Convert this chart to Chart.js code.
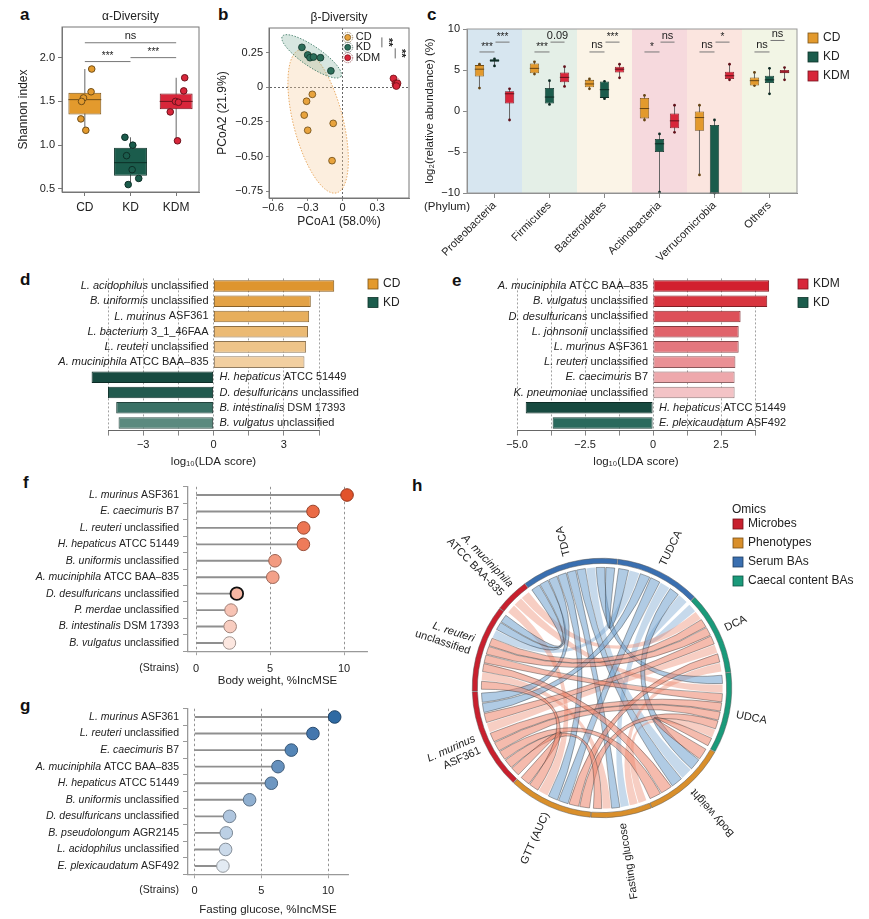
<!DOCTYPE html>
<html>
<head>
<meta charset="utf-8">
<script src="https://cdn.jsdelivr.net/npm/chart.js@4.4.0/dist/chart.umd.min.js"></script>
<style>
  html, body { margin: 0; padding: 0; background: #fff; }
  #fig { position: relative; width: 869px; height: 919px; overflow: hidden; font-family: "Liberation Sans", Arial, sans-serif; }
  #fig canvas { position: absolute; }
  .tag { position: absolute; font-weight: bold; font-size: 17px; line-height: 1; color: #111; }
</style>
</head>
<body>
<div id="fig">
  <div class="tag" style="left:20px;top:6px">a</div>
  <div class="tag" style="left:218px;top:6px">b</div>
  <div class="tag" style="left:427px;top:6px">c</div>
  <div class="tag" style="left:20px;top:271px">d</div>
  <div class="tag" style="left:452px;top:272px">e</div>
  <div class="tag" style="left:23px;top:474px">f</div>
  <div class="tag" style="left:20px;top:697px">g</div>
  <div class="tag" style="left:412px;top:477px">h</div>
</div>
<script>
// ========================================
// Data
// ========================================

// a: alpha diversity (Shannon index)
const alphaGroups = ['CD', 'KD', 'KDM'];
const alphaQuartiles = [[1.35, 1.60], [0.65, 0.97], [1.41, 1.59]];
const alphaMedians = [1.52, 0.80, 1.50];
const alphaWhiskers = [[1.17, 1.87], [0.55, 1.09], [1.05, 1.77]];
const alphaPoints = [
    [1.87, 1.61, 1.54, 1.50, 1.30, 1.17],
    [1.09, 1.00, 0.88, 0.72, 0.62, 0.55],
    [1.77, 1.62, 1.50, 1.49, 1.38, 1.05]
];
const alphaJitter = [
    [0.21, 0.19, -0.04, -0.10, -0.12, 0.03],
    [-0.17, 0.07, -0.12, 0.05, 0.25, -0.07],
    [0.26, 0.23, -0.02, 0.07, -0.18, 0.04]
];
const alphaTests = [[0, 2, 2.17, 'ns'], [0, 1, 1.955, '***'], [1, 2, 2.0, '***']];

// b: beta diversity (PCoA)
const betaCD = [
    { x: -0.26, y: -0.05 }, { x: -0.31, y: -0.10 }, { x: -0.33, y: -0.20 },
    { x: -0.30, y: -0.31 }, { x: -0.08, y: -0.26 }, { x: -0.09, y: -0.53 }
];
const betaKD = [
    { x: -0.35, y: 0.29 }, { x: -0.30, y: 0.235 }, { x: -0.28, y: 0.215 },
    { x: -0.25, y: 0.22 }, { x: -0.19, y: 0.215 }, { x: -0.10, y: 0.12 }
];
const betaKDM = [
    { x: 0.44, y: 0.065 }, { x: 0.46, y: 0.03 }, { x: 0.47, y: 0.02 },
    { x: 0.46, y: 0.015 }, { x: 0.475, y: 0.03 }, { x: 0.465, y: 0.01 }
];
// ellipse: centre x, centre y, first axis (dx, dy), second axis (dx, dy)
const betaEllipseCD = [-0.21, -0.245, -0.159, 0.518, 0.207, 0.046];
const betaEllipseKD = [-0.266, 0.225, 0.253, -0.145, -0.048, -0.06];
const betaEllipseKDM = [0.46, 0.035, 0.035, 0, 0, 0.04];
const betaTests = [[0.34, 0.29, 0.362, '**'], [0.455, 0.21, 0.283, '**']];

// c: phylum abundance, log2(relative abundance)
const phyla = ['Proteobacteria', 'Firmicutes', 'Bacteroidetes', 'Actinobacteria', 'Verrucomicrobia', 'Others'];
const cdQuartiles = [[4.2, 5.6], [4.6, 5.8], [2.9, 3.8], [-0.9, 1.6], [-2.4, 0.0], [3.1, 4.1]];
const cdMedians = [5.1, 5.2, 3.3, 0.3, -0.8, 3.7];
const cdWhiskers = [[2.8, 5.7], [4.5, 6.0], [2.7, 3.9], [-1.1, 1.9], [-7.8, 0.7], [3.1, 4.7]];
const kdQuartiles = [[6.0, 6.3], [0.9, 2.8], [1.6, 3.6], [-5.0, -3.4], [-10, -1.7], [3.4, 4.3]];
const kdMedians = [6.15, 1.7, 2.6, -4.0, -10, 3.8];
const kdWhiskers = [[5.5, 6.35], [0.8, 3.7], [1.5, 3.6], [-9.9, -2.8], [-10, -1.1], [2.1, 5.2]];
const kdmQuartiles = [[0.9, 2.4], [3.5, 4.7], [4.7, 5.4], [-2.1, -0.3], [3.9, 4.8], [4.6, 5.0]];
const kdmMedians = [2.1, 4.1, 5.1, -1.2, 4.3, 4.75];
const kdmWhiskers = [[-1.1, 2.7], [3.0, 5.4], [4.05, 5.7], [-2.6, 0.7], [3.8, 5.7], [3.8, 5.3]];
const phylaTestLow = ['***', '***', 'ns', '*', 'ns', 'ns'];
const phylaTestHigh = ['***', '0.09', '***', 'ns', '*', 'ns'];

// d: LEfSe CD vs KD
const ldaCdTaxa = ['L. acidophilus unclassified', 'B. uniformis unclassified', 'L. murinus ASF361',
    'L. bacterium 3_1_46FAA', 'L. reuteri unclassified', 'A. muciniphila ATCC BAA\u2013835'];
const ldaCdScores = [5.15, 4.15, 4.08, 4.03, 3.95, 3.88];
const ldaCdKdTaxa = ['H. hepaticus ATCC 51449', 'D. desulfuricans unclassified',
    'B. intestinalis DSM 17393', 'B. vulgatus unclassified'];
const ldaCdKdScores = [-5.2, -4.5, -4.15, -4.05];

// e: LEfSe KDM vs KD
const ldaKdmTaxa = ['A. muciniphila ATCC BAA\u2013835', 'B. vulgatus unclassified', 'D. desulfuricans unclassified',
    'L. johnsonii unclassified', 'L. murinus ASF361', 'L. reuteri unclassified',
    'E. caecimuris B7', 'K. pneumoniae unclassified'];
const ldaKdmScores = [4.27, 4.2, 3.22, 3.15, 3.15, 3.03, 3.0, 3.0];
const ldaKdmKdTaxa = ['H. hepaticus ATCC 51449', 'E. plexicaudatum ASF492'];
const ldaKdmKdScores = [-4.68, -3.69];

// f: random forest, body weight
const bwTaxa = ['L. murinus ASF361', 'E. caecimuris B7', 'L. reuteri unclassified', 'H. hepaticus ATCC 51449',
    'B. uniformis unclassified', 'A. muciniphila ATCC BAA\u2013835', 'D. desulfuricans unclassified',
    'P. merdae unclassified', 'B. intestinalis DSM 17393', 'B. vulgatus unclassified'];
const bwIncMSE = [10.2, 7.9, 7.27, 7.25, 5.33, 5.18, 2.75, 2.36, 2.3, 2.25];

// g: random forest, fasting glucose
const fgTaxa = ['L. murinus ASF361', 'L. reuteri unclassified', 'E. caecimuris B7', 'A. muciniphila ATCC BAA\u2013835',
    'H. hepaticus ATCC 51449', 'B. uniformis unclassified', 'D. desulfuricans unclassified',
    'B. pseudolongum AGR2145', 'L. acidophilus unclassified', 'E. plexicaudatum ASF492'];
const fgIncMSE = [10.5, 8.87, 7.25, 6.25, 5.75, 4.12, 2.62, 2.37, 2.32, 2.12];

// h: chord diagram
const omicsNames = ['Microbes', 'Phenotypes', 'Serum BAs', 'Caecal content BAs'];
const chordNodes = ['TDCA', 'TUDCA', 'DCA', 'UDCA', 'Body weight', 'Fasting glucose', 'GTT (AUC)',
    'L. murinus ASF361', 'L. reuteri unclassified', 'A. muciniphila ATCC BAA-835'];
const chordNodeSpan = [43.5, 38.5, 37.5, 36.5, 38, 27.5, 38, 45.5, 39.5, 15.5];
const chordNodeOmics = [2, 2, 3, 3, 1, 1, 1, 0, 0, 0];
// [node, node, sign (1 positive / -1 negative), significant outline]
const chordLinks = [
    [0, 8, -1, 1], [0, 8, -1, 1], [0, 7, -1, 1], [0, 6, -1, 1], [0, 5, -1, 1],
    [0, 4, -1, 1], [0, 3, -1, 1], [0, 1, -1, 1], [0, 4, -1, 0],
    [1, 8, -1, 0], [1, 7, -1, 1], [1, 6, -1, 1], [1, 5, -1, 0], [1, 4, -1, 1], [1, 2, -1, 0],
    [2, 8, 1, 1], [2, 8, 1, 1], [2, 7, 1, 1], [2, 7, 1, 0], [2, 6, 1, 1], [2, 5, 1, 0], [2, 9, 1, 0],
    [3, 8, 1, 1], [3, 7, 1, 1], [3, 7, 1, 1], [3, 6, 1, 1], [3, 5, 1, 0], [3, 4, 1, 1], [3, 9, 1, 0],
    [4, 7, 1, 1], [4, 8, 1, 1],
    [5, 7, 1, 1], [5, 8, 1, 0],
    [6, 7, 1, 1], [6, 8, 1, 1], [6, 9, 1, 0]
];

// ========================================
// Shared helpers
// ========================================
const FONT = '"Liberation Sans", Arial, sans-serif';
const MINUS = '\u2212';
const groupColor = { CD: '#E39A2D', KD: '#1B5C4C', KDM: '#D8263A' };
const omicsColor = ['#C8202E', '#D98F2B', '#3A6FB0', '#1A9A7A'];

Chart.defaults.font.family = FONT;
Chart.defaults.font.size = 11;
Chart.defaults.color = '#222';
Chart.defaults.animation = false;
Chart.defaults.responsive = false;
Chart.defaults.plugins.legend.display = false;
Chart.defaults.plugins.tooltip.enabled = false;

function makeCanvas(left, top, w, h) {
    const c = document.createElement('canvas');
    c.width = w;
    c.height = h;
    c.style.left = left + 'px';
    c.style.top = top + 'px';
    c.style.width = w + 'px';
    c.style.height = h + 'px';
    document.getElementById('fig').appendChild(c);
    return c;
}

function darken(color, amount) {
    const hex = color.replace('#', '');
    const ch = [0, 2, 4].map(i => Math.floor(parseInt(hex.substr(i, 2), 16) * (1 - amount)));
    return '#' + ch.map(v => v.toString(16).padStart(2, '0')).join('');
}

function fmt(v, digits) {
    if (v === 0) return '0';
    return (v < 0 ? MINUS : '') + Math.abs(v).toFixed(digits);
}

// species name: first two words italic, rest upright
function drawTaxon(ctx, name, x, y, align, size) {
    const words = name.split(' ');
    const ital = words.slice(0, 2).join(' ');
    const rest = words.length > 2 ? ' ' + words.slice(2).join(' ') : '';
    const fi = `italic ${size}px ${FONT}`;
    const fr = `${size}px ${FONT}`;
    ctx.font = fi;
    const wi = ctx.measureText(ital).width;
    ctx.font = fr;
    const wr = ctx.measureText(rest).width;
    let x0 = x;
    if (align === 'right') x0 = x - wi - wr;
    if (align === 'center') x0 = x - (wi + wr) / 2;
    ctx.textAlign = 'left';
    ctx.textBaseline = 'middle';
    ctx.fillStyle = '#222';
    ctx.font = fi;
    ctx.fillText(ital, x0, y);
    ctx.font = fr;
    ctx.fillText(rest, x0 + wi, y);
}

const framePlugin = {
    id: 'frame',
    beforeDatasetsDraw(chart) {
        const { ctx, chartArea: a } = chart;
        ctx.save();
        ctx.strokeStyle = '#777';
        ctx.lineWidth = 1;
        ctx.strokeRect(a.left, a.top, a.right - a.left, a.bottom - a.top);
        ctx.restore();
    }
};

function titlePlugin(text) {
    return {
        id: 'panelTitle',
        afterDraw(chart) {
            const { ctx, chartArea: a } = chart;
            ctx.save();
            ctx.font = `12px ${FONT}`;
            ctx.fillStyle = '#222';
            ctx.textAlign = 'center';
            ctx.textBaseline = 'middle';
            ctx.fillText(text, (a.left + a.right) / 2, a.top - 10);
            ctx.restore();
        }
    };
}

function squareLegend(items, x, y0, gap) {
    return {
        id: 'squareLegend',
        afterDraw(chart) {
            const ctx = chart.ctx;
            ctx.save();
            items.forEach(([label, color], i) => {
                const y = y0 + i * gap;
                ctx.fillStyle = color;
                ctx.strokeStyle = darken(color, 0.45);
                ctx.lineWidth = 0.8;
                ctx.fillRect(x, y - 5, 10, 10);
                ctx.strokeRect(x, y - 5, 10, 10);
                ctx.fillStyle = '#222';
                ctx.font = `12px ${FONT}`;
                ctx.textAlign = 'left';
                ctx.textBaseline = 'middle';
                ctx.fillText(label, x + 15, y);
            });
            ctx.restore();
        }
    };
}

// whiskers behind the box, median and dots on top
function boxPlugin(statsOf, capDot) {
    return {
        id: 'boxStats',
        beforeDatasetsDraw(chart) {
            const ctx = chart.ctx;
            const y = chart.scales.y;
            chart.data.datasets.forEach((ds, di) => {
                chart.getDatasetMeta(di).data.forEach((bar, i) => {
                    const s = statsOf(di, i);
                    ctx.save();
                    ctx.strokeStyle = '#666';
                    ctx.lineWidth = 1;
                    ctx.beginPath();
                    ctx.moveTo(bar.x, y.getPixelForValue(s.whisker[0]));
                    ctx.lineTo(bar.x, y.getPixelForValue(s.whisker[1]));
                    ctx.stroke();
                    if (capDot) {
                        ctx.fillStyle = s.edge;
                        s.whisker.forEach(v => {
                            ctx.beginPath();
                            ctx.arc(bar.x, y.getPixelForValue(v), capDot, 0, Math.PI * 2);
                            ctx.fill();
                        });
                    }
                    ctx.restore();
                });
            });
        },
        afterDatasetsDraw(chart) {
            const ctx = chart.ctx;
            const y = chart.scales.y;
            chart.data.datasets.forEach((ds, di) => {
                chart.getDatasetMeta(di).data.forEach((bar, i) => {
                    const s = statsOf(di, i);
                    const ym = y.getPixelForValue(s.median);
                    ctx.save();
                    ctx.strokeStyle = s.edge;
                    ctx.lineWidth = 1;
                    ctx.beginPath();
                    ctx.moveTo(bar.x - bar.width / 2, ym);
                    ctx.lineTo(bar.x + bar.width / 2, ym);
                    ctx.stroke();
                    (s.points || []).forEach((v, k) => {
                        ctx.beginPath();
                        ctx.arc(bar.x + s.jitter[k] * bar.width, y.getPixelForValue(v), 3.3, 0, Math.PI * 2);
                        ctx.fillStyle = s.fill;
                        ctx.fill();
                        ctx.lineWidth = 1;
                        ctx.strokeStyle = s.edge;
                        ctx.stroke();
                    });
                    ctx.restore();
                });
            });
        }
    };
}

function drawBracket(ctx, x1, x2, y, label) {
    ctx.strokeStyle = '#777';
    ctx.lineWidth = 1;
    ctx.beginPath();
    ctx.moveTo(x1, y);
    ctx.lineTo(x2, y);
    ctx.stroke();
    ctx.fillStyle = '#222';
    ctx.textAlign = 'center';
    ctx.textBaseline = 'bottom';
    ctx.font = `${label.indexOf('*') >= 0 ? 10 : 11}px ${FONT}`;
    ctx.fillText(label, (x1 + x2) / 2, y - (label.indexOf('*') >= 0 ? 0 : 1));
}

// ========================================
// a: alpha diversity
// ========================================
new Chart(makeCanvas(0, 0, 210, 235), {
    type: 'bar',
    data: {
        labels: alphaGroups,
        datasets: [{
            data: alphaQuartiles,
            backgroundColor: alphaGroups.map(g => groupColor[g]),
            borderColor: alphaGroups.map(g => darken(groupColor[g], 0.45)),
            borderWidth: 1,
            borderSkipped: false,
            barPercentage: 0.72,
            categoryPercentage: 1
        }]
    },
    options: {
        layout: { padding: { left: 16, top: 27, right: 11, bottom: 0 } },
        scales: {
            x: {
                grid: { drawOnChartArea: false, offset: false, tickLength: 4, color: '#777' },
                border: { color: '#777' },
                ticks: { font: { size: 12 }, padding: 4, color: '#222' },
                afterFit: s => { s.height = 43; }
            },
            y: {
                min: 0.465,
                max: 2.35,
                afterBuildTicks: s => { s.ticks = [0.5, 1, 1.5, 2].map(v => ({ value: v })); },
                ticks: { callback: v => v.toFixed(1), padding: 3, color: '#222' },
                grid: { drawOnChartArea: false, tickLength: 4, color: '#777' },
                border: { color: '#777' },
                title: { display: true, text: 'Shannon index', font: { size: 12 }, padding: 0 },
                afterFit: s => { s.width = 46; }
            }
        }
    },
    plugins: [
        framePlugin,
        boxPlugin((di, i) => ({
            median: alphaMedians[i],
            whisker: alphaWhiskers[i],
            points: alphaPoints[i],
            jitter: alphaJitter[i],
            fill: groupColor[alphaGroups[i]],
            edge: darken(groupColor[alphaGroups[i]], 0.5)
        }), 0),
        {
            id: 'alphaTests',
            afterDraw(chart) {
                const { ctx, scales: { x, y } } = chart;
                ctx.save();
                alphaTests.forEach(([a, b, v, label]) => {
                    drawBracket(ctx, x.getPixelForValue(a), x.getPixelForValue(b), y.getPixelForValue(v), label);
                });
                ctx.restore();
            }
        },
        titlePlugin('\u03b1-Diversity')
    ]
});

// ========================================
// b: beta diversity
// ========================================
const zeroGrid = {
    color: c => (c.tick && c.tick.value === 0 ? '#555' : 'rgba(0,0,0,0)'),
    tickColor: '#777',
    tickLength: 3,
    lineWidth: 0.9
};

new Chart(makeCanvas(205, 0, 210, 235), {
    type: 'scatter',
    data: {
        datasets: [
            { label: 'CD', data: betaCD, backgroundColor: '#E8A33D', borderColor: '#6b4a15' },
            { label: 'KD', data: betaKD, backgroundColor: '#2C6E5A', borderColor: '#10352b' },
            { label: 'KDM', data: betaKDM, backgroundColor: '#D8263A', borderColor: '#701018' }
        ]
    },
    options: {
        layout: { padding: { left: 10, top: 28, right: 6, bottom: 6 } },
        elements: { point: { radius: 3.4, borderWidth: 0.8 } },
        scales: {
            x: {
                min: -0.634,
                max: 0.574,
                afterBuildTicks: s => { s.ticks = [-0.6, -0.3, 0, 0.3].map(v => ({ value: v })); },
                ticks: { callback: v => fmt(v, 1), padding: 0, color: '#222' },
                grid: zeroGrid,
                border: { color: '#777', dash: [2, 2] },
                title: { display: true, text: 'PCoA1 (58.0%)', font: { size: 12 }, padding: { top: 2, bottom: 0 } },
                afterFit: s => { s.height = 31; }
            },
            y: {
                min: -0.80,
                max: 0.43,
                afterBuildTicks: s => { s.ticks = [-0.75, -0.5, -0.25, 0, 0.25].map(v => ({ value: v })); },
                ticks: { callback: v => fmt(v, 2), padding: 3, color: '#222' },
                grid: zeroGrid,
                border: { color: '#777', dash: [2, 2] },
                title: { display: true, text: 'PCoA2 (21.9%)', font: { size: 12 }, padding: 0 },
                afterFit: s => { s.width = 54; }
            }
        }
    },
    plugins: [
        framePlugin,
        {
            id: 'ellipses',
            beforeDatasetsDraw(chart) {
                const { ctx, scales: { x, y } } = chart;
                const shapes = [
                    [betaEllipseCD, 'rgba(246,205,160,0.35)', 'rgba(232,165,90,0.9)'],
                    [betaEllipseKD, 'rgba(110,165,145,0.28)', 'rgba(60,120,100,0.85)'],
                    [betaEllipseKDM, 'rgba(240,150,160,0.3)', 'rgba(220,90,100,0.85)']
                ];
                ctx.save();
                shapes.forEach(([e, fill, stroke]) => {
                    ctx.beginPath();
                    for (let k = 0; k <= 72; k++) {
                        const t = k / 72 * Math.PI * 2;
                        const px = x.getPixelForValue(e[0] + e[2] * Math.cos(t) + e[4] * Math.sin(t));
                        const py = y.getPixelForValue(e[1] + e[3] * Math.cos(t) + e[5] * Math.sin(t));
                        if (k === 0) ctx.moveTo(px, py); else ctx.lineTo(px, py);
                    }
                    ctx.closePath();
                    ctx.fillStyle = fill;
                    ctx.fill();
                    ctx.setLineDash([1.5, 1.5]);
                    ctx.strokeStyle = stroke;
                    ctx.lineWidth = 1;
                    ctx.stroke();
                });
                ctx.restore();
            },
            afterDraw(chart) {
                const { ctx, scales: { x, y } } = chart;
                ctx.save();
                // legend
                const lx = x.getPixelForValue(0.045);
                chart.data.datasets.forEach((ds, i) => {
                    const ly = y.getPixelForValue([0.362, 0.29, 0.215][i]);
                    ctx.setLineDash([1, 1]);
                    ctx.strokeStyle = ds.borderColor;
                    ctx.lineWidth = 0.7;
                    ctx.beginPath();
                    ctx.arc(lx, ly, 5, 0, Math.PI * 2);
                    ctx.stroke();
                    ctx.setLineDash([]);
                    ctx.beginPath();
                    ctx.arc(lx, ly, 3, 0, Math.PI * 2);
                    ctx.fillStyle = ds.backgroundColor;
                    ctx.fill();
                    ctx.stroke();
                    ctx.fillStyle = '#222';
                    ctx.font = `11px ${FONT}`;
                    ctx.textAlign = 'left';
                    ctx.textBaseline = 'middle';
                    ctx.fillText(ds.label, lx + 8, ly);
                });
                // PERMANOVA marks
                betaTests.forEach(([vx, y0, y1, label]) => {
                    const px = x.getPixelForValue(vx);
                    ctx.strokeStyle = '#666';
                    ctx.lineWidth = 1;
                    ctx.beginPath();
                    ctx.moveTo(px, y.getPixelForValue(y0));
                    ctx.lineTo(px, y.getPixelForValue(y1));
                    ctx.stroke();
                    ctx.save();
                    ctx.translate(px + 6, y.getPixelForValue((y0 + y1) / 2));
                    ctx.rotate(Math.PI / 2);
                    ctx.fillStyle = '#222';
                    ctx.font = `bold 11px ${FONT}`;
                    ctx.textAlign = 'center';
                    ctx.textBaseline = 'middle';
                    ctx.fillText(label, 0, 0);
                    ctx.restore();
                });
                ctx.restore();
            }
        },
        titlePlugin('\u03b2-Diversity')
    ]
});

// ========================================
// c: phylum level box plots
// ========================================
const phylaStats = [
    [cdQuartiles, cdMedians, cdWhiskers, 'CD'],
    [kdQuartiles, kdMedians, kdWhiskers, 'KD'],
    [kdmQuartiles, kdmMedians, kdmWhiskers, 'KDM']
];
const phylaBg = ['#D7E6F0', '#E4EFE7', '#FBF4E7', '#F6D9DD', '#FBE5DF', '#F2F5E5'];

new Chart(makeCanvas(405, 0, 464, 265), {
    type: 'bar',
    data: {
        labels: phyla,
        datasets: phylaStats.map(([q, m, w, g]) => ({
            label: g,
            data: q,
            backgroundColor: groupColor[g],
            borderColor: darken(groupColor[g], 0.5),
            borderWidth: 0.8,
            borderSkipped: false,
            barPercentage: 0.62,
            categoryPercentage: 0.82
        }))
    },
    options: {
        layout: { padding: { left: 18, top: 29, right: 72, bottom: 0 } },
        scales: {
            x: {
                grid: { drawOnChartArea: false, offset: false, tickLength: 5, color: '#888' },
                border: { color: '#888' },
                ticks: { autoSkip: false, minRotation: 45, maxRotation: 45, padding: 1, color: '#222', font: { size: 11 } },
                afterFit: s => { s.height = 72; }
            },
            y: {
                min: -10,
                max: 10,
                ticks: { stepSize: 5, callback: v => fmt(v, 0), padding: 3, color: '#222' },
                grid: { drawOnChartArea: false, tickLength: 4, color: '#888' },
                border: { color: '#888' },
                title: { display: true, text: 'log\u2082(relative abundance) (%)', font: { size: 11.5 }, padding: 0 },
                afterFit: s => { s.width = 44; }
            }
        }
    },
    plugins: [
        {
            id: 'phylumBands',
            beforeDraw(chart) {
                const { ctx, chartArea: a, scales: { x } } = chart;
                ctx.save();
                phyla.forEach((p, i) => {
                    const l = x.getPixelForValue(i - 0.5);
                    const r = x.getPixelForValue(i + 0.5);
                    ctx.fillStyle = phylaBg[i];
                    ctx.fillRect(l, a.top, r - l, a.bottom - a.top);
                });
                ctx.restore();
            },
            afterDraw(chart) {
                const { ctx, chartArea: a, scales: { x, y } } = chart;
                ctx.save();
                ctx.strokeStyle = '#999';
                ctx.lineWidth = 1;
                ctx.strokeRect(a.left, a.top, a.right - a.left, a.bottom - a.top);
                const bars = [0, 1, 2].map(d => chart.getDatasetMeta(d).data);
                phyla.forEach((p, i) => {
                    drawBracket(ctx, bars[0][i].x, bars[1][i].x, y.getPixelForValue(7.2), phylaTestLow[i]);
                    drawBracket(ctx, bars[1][i].x + 1, bars[2][i].x, y.getPixelForValue(i === 5 ? 8.6 : 8.4), phylaTestHigh[i]);
                });
                ctx.font = `11.5px ${FONT}`;
                ctx.fillStyle = '#222';
                ctx.textAlign = 'center';
                ctx.textBaseline = 'middle';
                ctx.fillText('(Phylum)', 42, 207);
                ctx.restore();
            }
        },
        boxPlugin((di, i) => ({
            median: phylaStats[di][1][i],
            whisker: phylaStats[di][2][i],
            fill: groupColor[phylaStats[di][3]],
            edge: darken(groupColor[phylaStats[di][3]], 0.55)
        }), 1.4),
        squareLegend([['CD', groupColor.CD], ['KD', groupColor.KD], ['KDM', groupColor.KDM]], 403, 38, 19)
    ]
});

// ========================================
// d / e: LDA scores
// ========================================
function ldaChart(left, width, taxa, scores, colors, xmin, xmax, step, major, padLeft, padRight, legend) {
    return new Chart(makeCanvas(left, 262, width, 210), {
        type: 'bar',
        data: {
            labels: taxa,
            datasets: [{
                data: scores,
                backgroundColor: colors,
                borderColor: colors.map(c => darken(c, 0.4)),
                borderWidth: 1,
                borderSkipped: false,
                barPercentage: 0.76,
                categoryPercentage: 1,
                clip: false
            }]
        },
        options: {
            indexAxis: 'y',
            layout: { padding: { left: padLeft, right: padRight, top: 16.4, bottom: 0 } },
            scales: {
                x: {
                    min: xmin,
                    max: xmax,
                    ticks: {
                        stepSize: step,
                        callback: v => (Math.abs(v / major - Math.round(v / major)) < 1e-6 ? fmt(v, major % 1 ? 1 : 0) : ''),
                        padding: 3,
                        color: '#222'
                    },
                    grid: { color: '#8a8a8a', lineWidth: 0.8, tickColor: '#666', tickLength: 5 },
                    border: { dash: [2, 2], color: '#666' },
                    title: { display: true, text: 'log\u2081\u2080(LDA score)', font: { size: 11.5 }, padding: { top: 0, bottom: 3 } },
                    afterFit: s => { s.height = 41.4; }
                },
                y: { display: false }
            }
        },
        plugins: [
            {
                id: 'ldaLabels',
                afterDatasetsDraw(chart) {
                    const { ctx, scales: { x } } = chart;
                    const x0 = x.getPixelForValue(0);
                    ctx.save();
                    chart.getDatasetMeta(0).data.forEach((bar, i) => {
                        if (scores[i] >= 0) drawTaxon(ctx, taxa[i], x0 - 5, bar.y, 'right', 11);
                        else drawTaxon(ctx, taxa[i], x0 + 6, bar.y, 'left', 11);
                    });
                    ctx.restore();
                }
            },
            squareLegend(legend, 368, 22, 18.5)
        ]
    });
}

ldaChart(0, 430, ldaCdTaxa.concat(ldaCdKdTaxa), ldaCdScores.concat(ldaCdKdScores),
    ['#DE952F', '#E3A246', '#E7AE5C', '#EBBA74', '#EEC489', '#F2CFA0', '#174A40', '#225A4F', '#3A7166', '#5B8A7F'],
    -4.5, 4.5, 1.5, 3, 108, 111, [['CD', groupColor.CD], ['KD', groupColor.KD]]);

ldaChart(430, 439, ldaKdmTaxa.concat(ldaKdmKdTaxa), ldaKdmScores.concat(ldaKdmKdScores),
    ['#D2202F', '#D8353F', '#DD5059', '#E0636B', '#E4777E', '#EA9095', '#EEA8AC', '#F3C3C6', '#174A40', '#2A6A5D'],
    -5, 3.75, 1.25, 2.5, 87, 114, [['KDM', groupColor.KDM], ['KD', groupColor.KD]]);

// ========================================
// f / g: random forest lollipops
// ========================================
function lollipop(top, height, taxa, values, colors, edgeWidths, xmin, xmax, padTop, padRight, axisH, tickPad, title) {
    return new Chart(makeCanvas(0, top, 400, height), {
        type: 'bar',
        data: {
            labels: taxa,
            datasets: [
                {
                    type: 'line',
                    indexAxis: 'y',
                    data: values,
                    showLine: false,
                    pointRadius: 6.3,
                    pointBackgroundColor: colors,
                    pointBorderColor: colors.map((c, i) => (edgeWidths[i] > 1.2 ? '#111' : darken(c, 0.35))),
                    pointBorderWidth: edgeWidths,
                    order: 0
                },
                {
                    type: 'bar',
                    data: values,
                    backgroundColor: '#8f8f8f',
                    barThickness: 1.2,
                    order: 1
                }
            ]
        },
        options: {
            indexAxis: 'y',
            layout: { padding: { left: 0, right: padRight, top: padTop, bottom: 0 } },
            scales: {
                x: {
                    min: xmin,
                    max: xmax,
                    ticks: { stepSize: 5, includeBounds: false, padding: tickPad, color: '#222' },
                    grid: { color: '#888', lineWidth: 0.9, tickColor: '#999', tickLength: 4 },
                    border: { dash: [2.5, 2.5], color: '#999', width: 1.3 },
                    title: { display: true, text: title, font: { size: 11.5 }, padding: { top: 0, bottom: 2 } },
                    afterFit: s => { s.height = axisH; }
                },
                y: {
                    ticks: { display: false },
                    grid: { drawOnChartArea: false, tickLength: 5, color: '#999' },
                    border: { color: '#999', width: 1.3 },
                    afterFit: s => { s.width = 188; }
                }
            }
        },
        plugins: [{
            id: 'strainLabels',
            afterDraw(chart) {
                const { ctx, chartArea: a, scales: { x, y } } = chart;
                ctx.save();
                taxa.forEach((t, i) => drawTaxon(ctx, t, a.left - 9, y.getPixelForValue(i), 'right', 10.5));
                ctx.font = `10.5px ${FONT}`;
                ctx.fillStyle = '#222';
                ctx.textAlign = 'right';
                ctx.textBaseline = 'middle';
                ctx.fillText('(Strains)', a.left - 9, x.top + 4 + tickPad + 6);
                ctx.restore();
            }
        }]
    });
}

lollipop(470, 220, bwTaxa, bwIncMSE,
    ['#E2532B', '#EA6A45', '#EC7553', '#EE7B5A', '#F29A80', '#F3A189', '#F5B6A3', '#F7C3B4', '#F8CDC0', '#FCE7E0'],
    [1, 1, 1, 1, 1, 1, 1.8, 1, 1, 1],
    -0.55, 11.55, 16.8, 33, 38.8, 7, 'Body weight, %IncMSE');

lollipop(690, 229, fgTaxa, fgIncMSE,
    ['#2F6AA3', '#4477AE', '#5485B6', '#6590BD', '#6E97C1', '#8FAFD0', '#AFC6DF', '#BCD0E5', '#CBDAEA', '#E3EBF3'],
    [1, 1, 1, 1, 1, 1, 1, 1, 1, 1],
    -0.5, 11.5, 18.7, 52, 44.7, 6, 'Fasting glucose, %IncMSE');

// ========================================
// h: chord diagram
// ========================================
const chordPlugin = {
    id: 'chord',
    afterDatasetsDraw(chart) {
        const ctx = chart.ctx;
        const arcs = chart.getDatasetMeta(0).data;
        const TAU = Math.PI * 2;
        const mid = a => (a.startAngle + a.endAngle) / 2;

        // allocate a slot on each node for every link end
        const ends = chordNodes.map(() => []);
        chordLinks.forEach((lk, k) => {
            ends[lk[0]].push({ k, other: lk[1], low: lk[0] < lk[1] });
            ends[lk[1]].push({ k, other: lk[0], low: lk[1] < lk[0] });
        });
        const slots = chordLinks.map(() => ({}));
        arcs.forEach((arc, n) => {
            const m = mid(arc);
            const list = ends[n].map(e => {
                let d = mid(arcs[e.other]) - m;
                d = ((d % TAU) + TAU) % TAU;
                return Object.assign({ d }, e);
            });
            list.sort((p, q) => (q.d - p.d) || (p.low ? p.k - q.k : q.k - p.k));
            const pad = 0.012;
            const w = (arc.endAngle - arc.startAngle - 2 * pad) / list.length;
            list.forEach((e, j) => {
                const a0 = arc.startAngle + pad + j * w;
                slots[e.k][n] = [a0 + w * 0.05, a0 + w * 0.95];
            });
        });

        const cx = arcs[0].x;
        const cy = arcs[0].y;
        const r = arcs[0].innerRadius - 3;
        const order = chordLinks.map((lk, k) => k).sort((p, q) => chordLinks[p][3] - chordLinks[q][3]);
        ctx.save();
        order.forEach(k => {
            const [a, b, sign, strong] = chordLinks[k];
            const [s0, s1] = slots[k][a];
            const [t0, t1] = slots[k][b];
            ctx.beginPath();
            ctx.arc(cx, cy, r, s0, s1);
            ctx.quadraticCurveTo(cx, cy, cx + r * Math.cos(t0), cy + r * Math.sin(t0));
            ctx.arc(cx, cy, r, t0, t1);
            ctx.quadraticCurveTo(cx, cy, cx + r * Math.cos(s0), cy + r * Math.sin(s0));
            ctx.closePath();
            const alpha = strong ? 0.55 : 0.4;
            ctx.fillStyle = sign > 0 ? `rgba(236,132,106,${alpha})` : `rgba(112,160,205,${alpha})`;
            ctx.fill();
            if (strong) {
                ctx.strokeStyle = 'rgba(40,40,40,0.65)';
                ctx.lineWidth = 0.6;
                ctx.stroke();
            }
        });
        ctx.restore();
    },
    afterDraw(chart) {
        const ctx = chart.ctx;
        const arcs = chart.getDatasetMeta(0).data;
        ctx.save();
        arcs.forEach((arc, n) => {
            const m = (arc.startAngle + arc.endAngle) / 2;
            const fromTop = (((m * 180 / Math.PI + 90) % 360) + 360) % 360;
            const flip = fromTop > 125 && fromTop < 335;
            const rr = arc.outerRadius + 8;
            const name = chordNodes[n];
            const microbe = chordNodeOmics[n] === 0;
            const words = name.split(' ');
            const lines = microbe ? [[words.slice(0, 2).join(' '), true], [words.slice(2).join(' '), false]] : [[name, false]];
            ctx.save();
            ctx.translate(arc.x + rr * Math.cos(m), arc.y + rr * Math.sin(m));
            ctx.rotate(flip ? m + Math.PI : m);
            ctx.textAlign = flip ? 'right' : 'left';
            ctx.textBaseline = 'middle';
            ctx.fillStyle = '#222';
            lines.forEach(([txt, ital], i) => {
                ctx.font = `${ital ? 'italic ' : ''}11px ${FONT}`;
                ctx.fillText(txt, 0, (i - (lines.length - 1) / 2) * 13);
            });
            ctx.restore();
        });
        // legend
        ctx.font = `12px ${FONT}`;
        ctx.fillStyle = '#222';
        ctx.textAlign = 'left';
        ctx.textBaseline = 'middle';
        ctx.fillText('Omics', 332, 40);
        omicsNames.forEach((o, i) => {
            const y = 54 + i * 19;
            ctx.fillStyle = omicsColor[i];
            ctx.fillRect(333, y - 5, 10, 10);
            ctx.strokeStyle = darken(omicsColor[i], 0.45);
            ctx.lineWidth = 0.8;
            ctx.strokeRect(333, y - 5, 10, 10);
            ctx.fillStyle = '#222';
            ctx.fillText(o, 348, y);
        });
        ctx.restore();
    }
};

new Chart(makeCanvas(400, 470, 469, 449), {
    type: 'doughnut',
    data: {
        labels: chordNodes,
        datasets: [{
            data: chordNodeSpan,
            backgroundColor: chordNodeOmics.map(o => omicsColor[o]),
            borderColor: '#555',
            borderWidth: 0.5,
            spacing: 2
        }]
    },
    options: {
        rotation: -36.5,
        cutout: '96%',
        layout: { padding: { left: 72, right: 137, top: 88, bottom: 101 } }
    },
    plugins: [chordPlugin]
});
</script>
</body>
</html>
